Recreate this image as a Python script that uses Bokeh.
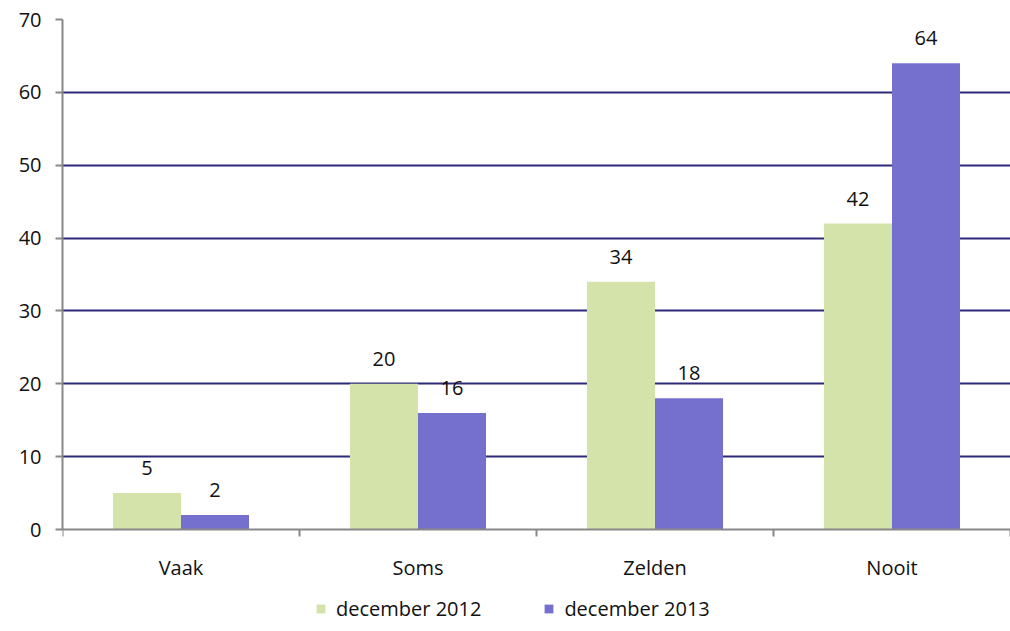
from bokeh.plotting import figure
from bokeh.models import (ColumnDataSource, FixedTicker, Legend, LegendItem, Range1d,
                          LabelSet)
from bokeh.embed import file_html
from bokeh.resources import INLINE
from bokeh.core.properties import value

categories = ["Vaak", "Soms", "Zelden", "Nooit"]
series_names = ["december 2012", "december 2013"]
dec2012 = [5, 20, 34, 42]
dec2013 = [2, 16, 18, 64]
y_ticks = [0, 10, 20, 30, 40, 50, 60, 70]

GREEN = "#D3E3AA"
PURPLE = "#7570CE"
GRID = "#2E2A7A"
AXIS = "#888888"
FONT = "Open Sans"
TXT = "#111111"

bw = 0.287
centers = [i + 0.5 for i in range(len(categories))]
src = ColumnDataSource(dict(
    x1=[c - bw / 2 for c in centers],
    x2=[c + bw / 2 for c in centers],
    a=dec2012, b=dec2013,
    la=[str(v) for v in dec2012], lb=[str(v) for v in dec2013],
))

# frame extends below zero so the legend can sit inside it, under the axis
p = figure(width=1010, height=631, output_backend="svg", toolbar_location=None,
           x_range=Range1d(0, len(categories)), y_range=Range1d(-14, 70))
p.min_border_left = 62
p.min_border_top = 19
p.min_border_right = 0
p.min_border_bottom = 0
p.outline_line_color = None
p.background_fill_color = "white"

r1 = p.vbar(x="x1", top="a", width=bw, source=src, fill_color=GREEN, line_color=None)
r2 = p.vbar(x="x2", top="b", width=bw, source=src, fill_color=PURPLE, line_color=None)

for col, xcol, ycol in (("la", "x1", "a"), ("lb", "x2", "b")):
    lbl = LabelSet(x=xcol, y=ycol, text=col, source=src, text_align="center",
                   text_baseline="bottom", y_offset=18, text_font=value(FONT),
                   text_font_size="20px", text_color=TXT)
    p.add_layout(lbl)

# grid
p.xgrid.grid_line_color = None
p.ygrid.ticker = FixedTicker(ticks=y_ticks[1:])
p.ygrid.grid_line_color = GRID
p.ygrid.grid_line_width = 2

# y axis
p.yaxis.ticker = FixedTicker(ticks=y_ticks)
p.yaxis.bounds = (y_ticks[0], y_ticks[-1])
p.yaxis.axis_line_color = AXIS
p.yaxis.axis_line_width = 2
p.yaxis.major_tick_line_color = AXIS
p.yaxis.major_tick_line_width = 2
p.yaxis.major_tick_out = 7
p.yaxis.major_tick_in = 0
p.yaxis.minor_tick_line_color = None
p.yaxis.major_label_standoff = 14
p.yaxis.major_label_text_font = FONT
p.yaxis.major_label_text_font_size = "20px"
p.yaxis.major_label_text_color = TXT

# x axis, fixed at y = 0
p.xaxis.fixed_location = 0
p.xaxis.ticker = FixedTicker(ticks=centers, minor_ticks=list(range(len(categories) + 1)))
p.xaxis.major_label_overrides = {c: n for c, n in zip(centers, categories)}
p.xaxis.axis_line_color = AXIS
p.xaxis.axis_line_width = 2
p.xaxis.major_tick_line_color = None
p.xaxis.minor_tick_line_color = AXIS
p.xaxis.minor_tick_line_width = 2
p.xaxis.minor_tick_out = 7
p.xaxis.minor_tick_in = 0
p.xaxis.major_label_standoff = 17
p.xaxis.major_label_text_font = FONT
p.xaxis.major_label_text_font_size = "20px"
p.xaxis.major_label_text_color = TXT

legend = Legend(items=[LegendItem(label=series_names[0], renderers=[r1]),
                       LegendItem(label=series_names[1], renderers=[r2])],
                orientation="horizontal", location=(253, 9),
                border_line_color=None, background_fill_alpha=0,
                glyph_width=11, glyph_height=11, label_text_font=FONT,
                label_text_font_size="20px", label_text_color=TXT,
                spacing=62, label_standoff=10, margin=0, padding=0)
p.add_layout(legend, "center")

open("out.html", "w").write(file_html(p, INLINE))
